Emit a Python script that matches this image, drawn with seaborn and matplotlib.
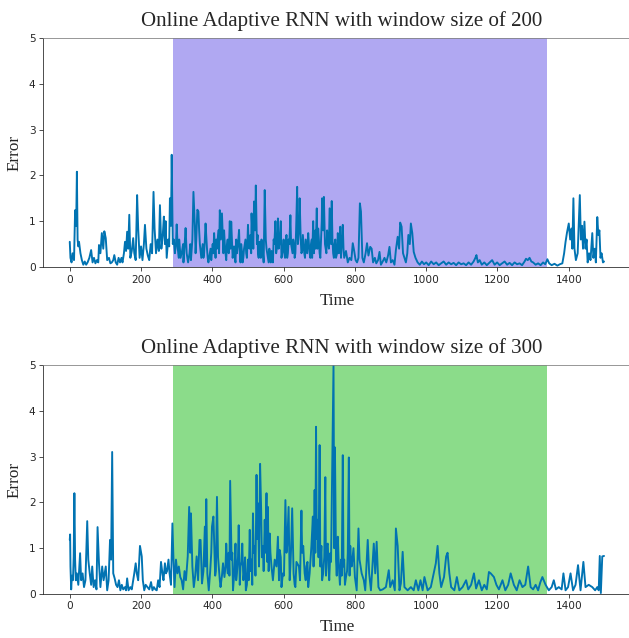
import matplotlib
matplotlib.use("Agg")
import matplotlib.pyplot as plt
import seaborn as sns
import pandas as pd

# --- data ---
t_200 = [0, 2, 5, 8, 12, 15, 18, 20, 22, 24, 26, 30, 34, 38, 42, 46, 50, 55, 60, 64, 68, 72, 76, 80, 82, 86, 90, 94, 97, 101,
         105, 110, 114, 118, 122, 125, 129, 133, 137, 141, 145, 148, 152, 155, 158, 161, 164, 167, 170, 174, 178, 181, 185, 189, 192, 196, 200,
         204, 208, 211, 215, 219, 223, 227, 231, 235, 238, 242, 246, 250, 253, 257, 261, 264, 267, 269, 272, 276, 279, 281, 284, 286, 289,
         292, 295, 298, 300, 303, 307, 311, 315, 319, 322, 325, 328, 332, 336, 340, 344, 347, 351, 355, 358, 361, 365, 369, 373, 377, 381,
         385, 389, 393, 397, 401, 405, 409, 413, 417, 421, 424, 427, 431, 435, 439, 443, 446, 449, 453, 457, 461, 465, 469, 472, 475, 479,
         483, 487, 491, 495, 500, 504, 507, 510, 514, 517, 520, 522, 525, 528, 532, 536, 540, 544, 547, 550, 554, 558, 562, 566, 570, 574,
         577, 581, 584, 588, 592, 596, 600, 604, 608, 612, 616, 619, 623, 627, 631, 635, 638, 642, 645, 648, 652, 656, 660, 664, 669, 673,
         677, 680, 683, 687, 690, 693, 697, 701, 705, 708, 711, 713, 716, 720, 724, 729, 733, 735, 739, 743, 747, 752, 755, 759, 763, 766,
         770, 775, 780, 785, 790, 794, 798, 802, 806, 810, 814, 817, 821, 825, 830, 834, 838, 843, 847, 851, 856, 860, 865, 869, 873, 878,
         883, 888, 893, 897, 901, 906, 911, 915, 920, 924, 927, 931, 935, 939, 943, 947, 950, 954, 957, 961, 965, 970, 976, 982, 988, 994,
         1000, 1007, 1014, 1021, 1028, 1035, 1042, 1049, 1056, 1063, 1070, 1077, 1084, 1091, 1098, 1105, 1112, 1119, 1126, 1133, 1138,
         1141, 1145, 1150, 1156, 1163, 1170, 1177, 1185, 1192, 1199, 1206, 1213, 1220, 1227, 1234, 1241, 1248, 1255, 1262, 1269, 1276,
         1280, 1285, 1290, 1295, 1300, 1307, 1314, 1321, 1328, 1334, 1340, 1345, 1352, 1360, 1368, 1375, 1382, 1387, 1391, 1395, 1400,
         1404, 1408, 1410, 1413, 1416, 1420, 1425, 1431, 1434, 1437, 1440, 1444, 1447, 1450, 1453, 1457, 1461, 1466, 1469, 1473, 1476,
         1480, 1483, 1486, 1489, 1492, 1496, 1499,
         # extra readings in the dense 300-770 stretch
         306, 318, 330, 338, 353, 363, 375, 379, 387, 395, 403, 411, 419, 433, 437, 441, 451, 455, 463, 467, 477, 481, 485, 489,
         493, 497, 502, 509, 512, 515, 519, 527, 530, 534, 538, 542, 552, 556, 560, 564, 568, 572, 579, 583, 586, 590, 594, 598,
         602, 606, 610, 614, 621, 625, 629, 633, 640, 644, 650, 654, 658, 662, 666, 671, 675, 679, 685, 689, 695, 699, 703, 707,
         715, 718, 722, 727, 731, 737, 741, 745, 750, 757, 761, 765, 768]
err_200 = [0.55, 0.2, 0.1, 0.3, 0.15, 1.24, 0.9, 2.08, 0.6, 0.45, 0.55, 0.3, 0.15, 0.05, 0.12, 0.05, 0.1, 0.2, 0.37, 0.1, 0.2, 0.08,
           0.15, 0.1, 0.48, 0.3, 0.74, 0.4, 0.78, 0.63, 0.15, 0.2, 0.08, 0.1, 0.15, 0.26, 0.1, 0.05, 0.2, 0.1, 0.2, 0.1, 0.3, 0.55, 0.35,
           0.77, 0.4, 1.14, 0.2, 0.35, 0.63, 0.3, 0.15, 1.57, 0.84, 0.2, 0.45, 0.15, 0.5, 0.92, 0.4, 0.25, 0.15, 0.5, 0.3, 1.64, 0.84, 0.3,
           0.6, 0.35, 1.35, 0.4, 0.7, 1.1, 0.5, 1.0, 0.2, 0.6, 0.45, 1.5, 0.9, 2.45, 0.5, 0.6, 0.3, 0.5, 0.93, 0.4, 0.6, 0.2, 0.35, 0.1,
           0.45, 0.85, 0.3, 0.1, 0.3, 0.15, 0.6, 1.64, 0.9, 0.6, 1.25, 1.21, 0.5, 0.2, 0.5, 0.3, 0.95, 0.4, 0.1, 0.3, 0.15, 0.5, 0.74, 0.2,
           0.4, 0.8, 1.24, 0.6, 1.17, 0.3, 0.5, 0.15, 0.6, 0.3, 1.0, 0.99, 0.2, 0.45, 0.1, 0.3, 0.5, 0.81, 0.1, 0.35, 0.2, 0.5, 0.3, 0.92,
           0.4, 0.7, 1.17, 0.6, 1.43, 0.8, 1.78, 0.5, 0.3, 0.55, 0.2, 0.4, 0.1, 1.68, 0.6, 0.3, 0.1, 0.2, 0.35, 0.1, 0.5, 1.0, 0.4, 1.06,
           0.5, 1.0, 0.3, 0.6, 0.2, 0.7, 0.3, 0.5, 1.13, 0.4, 0.6, 0.2, 0.8, 1.75, 0.7, 1.5, 0.6, 0.35, 0.5, 0.2, 0.45, 0.74, 0.3, 0.5,
           0.2, 1.0, 0.6, 0.4, 1.28, 0.84, 0.3, 0.6, 1.5, 0.8, 1.53, 0.5, 0.3, 0.6, 1.28, 0.5, 1.44, 0.3, 0.5, 0.2, 0.74, 0.3, 0.88, 0.5,
           0.92, 0.2, 0.35, 0.1, 0.2, 0.15, 0.52, 0.35, 0.15, 0.1, 0.2, 1.39, 1.21, 0.2, 0.1, 0.3, 0.52, 0.25, 0.44, 0.4, 0.1, 0.2, 0.08,
           0.15, 0.33, 0.05, 0.12, 0.2, 0.1, 0.25, 0.44, 0.1, 0.15, 0.05, 0.37, 0.66, 0.4, 0.97, 0.88, 0.3, 0.2, 0.1, 0.3, 0.7, 0.5, 0.95,
           0.74, 0.33, 0.2, 0.1, 0.05, 0.12, 0.06,
           0.1, 0.04, 0.12, 0.06, 0.1, 0.04, 0.08, 0.12, 0.05, 0.1, 0.06, 0.09, 0.04, 0.1, 0.06, 0.08, 0.04, 0.1, 0.05, 0.12, 0.2,
           0.26, 0.1, 0.15, 0.05, 0.1, 0.04, 0.09, 0.15, 0.05, 0.1, 0.04, 0.08, 0.12, 0.05, 0.09, 0.04, 0.1, 0.06, 0.08, 0.04, 0.12,
           0.18, 0.15, 0.2, 0.12, 0.1, 0.05, 0.08, 0.04, 0.1, 0.06, 0.17, 0.08, 0.04, 0.07, 0.03, 0.06, 0.08, 0.3, 0.55, 0.75, 0.95,
           0.6, 0.84, 0.4, 1.5, 0.4, 0.15, 0.3, 1.57, 0.6, 0.9, 0.4, 0.99, 0.4, 0.6, 0.1, 0.3, 0.15, 0.74, 0.2, 0.4, 0.1,
           1.09, 0.7, 0.8, 0.2, 0.3, 0.1, 0.12,
           0.2, 0.5, 0.2, 0.5, 0.3, 0.8, 0.2, 0.6, 0.2, 0.4, 0.3, 0.6, 0.3, 0.8, 0.3, 0.5, 0.4, 0.6, 0.2, 0.6, 0.3, 0.5, 0.1, 0.4,
           0.6, 0.2, 0.5, 0.3, 0.8, 0.4, 1.0, 0.7, 0.2, 0.4, 0.6, 0.3, 0.4, 0.2, 0.4, 0.1, 0.3, 0.6, 0.3, 0.7, 0.4, 0.7, 0.2, 0.4,
           0.3, 0.5, 0.2, 0.6, 0.5, 0.3, 0.5, 0.3, 0.5, 0.9, 0.3, 0.7, 0.3, 0.6, 0.3, 0.5, 0.2, 0.6, 0.3, 0.8, 0.4, 0.6, 0.2, 1.0,
           0.9, 0.4, 0.8, 0.4, 0.9, 0.6, 0.2, 0.6, 0.3, 0.4, 0.2, 0.7, 0.4]

t_300 = [0, 1, 2, 4, 6, 9, 11, 13, 15, 17, 20, 24, 29, 32, 36, 40, 44, 49, 52, 56, 60, 63, 67, 71, 75, 78, 82, 86, 91, 95, 98, 101,
         105, 109, 113, 116, 119, 122, 126, 130, 134, 138, 142, 146, 150, 155, 158, 161, 165, 170, 174, 178, 181, 185, 188, 192, 197,
         202, 205, 209, 213, 218, 223, 228, 232, 236, 240, 244, 248, 252, 256, 260, 263, 267, 270, 273, 277, 280, 284, 288, 291, 294,
         298, 302, 306, 310, 314, 318, 322, 326, 331, 335, 338, 340, 344, 348, 352, 356, 360, 364, 367, 371, 375, 379, 383, 386, 390,
         394, 399, 403, 406, 410, 413, 418, 423, 427, 430, 434, 439, 443, 446, 450, 454, 458, 462, 465, 469, 474, 479, 484, 489, 494,
         500, 505, 510, 514, 519, 524, 528, 534, 537, 542, 547, 552, 556, 561, 566, 570, 575, 580, 584, 589, 594, 598, 605, 610, 614,
         619, 624, 628, 633, 638, 643, 650, 655, 659, 664, 669, 673, 678, 682, 687, 691, 695, 701, 706, 711, 717, 721, 726, 731, 735,
         737, 740, 744, 747, 752, 756, 761, 766, 770, 775, 780, 783, 787, 791, 796, 800, 805, 810, 813, 819, 825, 829, 836, 840, 845,
         853, 857, 861, 866, 871, 878, 887, 895, 899, 906, 912, 915, 920, 925, 929, 934, 939, 948, 957, 965, 971, 978, 984, 990, 995,
         1004, 1013, 1021, 1027, 1032, 1037, 1042, 1050, 1056, 1060, 1065, 1070, 1079, 1086, 1093, 1102, 1112, 1118, 1126, 1134, 1140,
         1148, 1156, 1163, 1170, 1176, 1181, 1190, 1197, 1204, 1214, 1222, 1230, 1237, 1246, 1254, 1262, 1270, 1278, 1286, 1293, 1300,
         1307, 1314, 1320, 1326, 1335, 1344, 1352, 1358, 1364, 1372, 1380, 1385, 1391, 1398, 1405, 1412, 1419, 1426, 1433, 1441, 1447,
         1456, 1466, 1474, 1480, 1484, 1487, 1490, 1494, 1499,
         # extra readings in the dense 380-790 stretch
         381, 392, 397, 408, 416, 421, 437, 448, 456, 467, 472, 477, 482, 487, 492, 497, 502, 507, 512, 516, 521, 526, 531, 539,
         544, 549, 554, 558, 563, 587, 592, 601, 608, 617, 621, 631, 636, 646, 652, 662, 667, 684, 689, 693, 698, 703, 708, 714,
         719, 724, 728, 733, 742, 749, 754, 758, 763, 768, 772, 778, 785, 789]
err_300 = [1.18, 1.3, 0.6, 0.1, 0.4, 0.3, 0.8, 2.2, 0.75, 0.3, 0.45, 0.2, 0.89, 0.3, 0.45, 0.15, 0.3, 1.59, 0.75, 0.45, 0.2, 0.6,
           0.15, 0.3, 0.1, 1.46, 0.67, 0.15, 0.6, 0.3, 0.45, 0.6, 0.08, 0.3, 1.18, 0.75, 3.1, 0.45, 0.34, 0.2, 0.15, 0.3, 0.08, 0.2,
           0.1, 0.15, 0.08, 0.34, 0.08, 0.15, 0.1, 0.3, 0.45, 0.67, 0.45, 0.3, 1.05, 0.82, 0.3, 0.08, 0.2, 0.15, 0.1, 0.26, 0.08, 0.15,
           0.1, 0.08, 0.3, 0.15, 0.7, 0.45, 0.3, 0.67, 0.45, 0.5, 0.75, 0.45, 0.2, 1.54, 0.75, 0.15, 0.75, 0.45, 0.6, 0.37, 0.3, 0.1,
           0.5, 0.3, 0.82, 1.9, 0.9, 1.76, 0.6, 0.15, 0.4, 0.82, 0.3, 1.18, 1.18, 0.23, 0.5, 1.47, 2.07, 0.45, 0.08, 0.5, 1.47, 1.69,
           0.89, 0.5, 2.12, 0.6, 0.15, 0.4, 0.67, 0.37, 1.1, 0.45, 0.9, 2.47, 0.75, 0.08, 0.5, 1.1, 0.45, 1.5, 0.6, 1.1, 0.45, 0.08,
           0.75, 1.4, 0.75, 1.76, 1.05, 2.6, 1.98, 2.84, 1.83, 1.05, 1.62, 2.2, 1.9, 1.32, 0.6, 0.3, 0.75, 0.6, 1.25, 0.96, 0.15, 0.45,
           2.05, 1.05, 1.9, 0.6, 1.87, 0.45, 0.15, 0.67, 0.6, 1.82, 1.05, 0.45, 0.6, 0.15, 0.45, 1.05, 1.69, 2.27, 3.65, 1.62, 3.25,
           1.05, 0.45, 2.55, 1.05, 0.6, 0.89, 1.9, 2.93, 5.0, 3.2, 0.75, 1.25, 0.45, 0.75, 3.03, 0.75, 0.37, 0.89, 2.98, 1.05, 0.6, 1.0,
           0.37, 0.08, 1.43, 0.75, 0.45, 0.3, 0.08, 1.18, 0.45, 0.08, 1.1, 0.45, 1.14, 0.15, 0.08, 0.1, 0.15, 0.52, 0.15, 0.3, 0.08,
           1.43, 1.05, 0.08, 0.23, 0.92, 0.15, 0.08, 0.15, 0.08, 0.3, 0.08, 0.3, 0.08, 0.37, 0.08, 0.15, 0.45, 0.67, 1.05, 0.45, 0.15,
           0.37, 0.82, 0.9, 0.45, 0.15, 0.08, 0.37, 0.08, 0.15, 0.3, 0.1, 0.2, 0.45, 0.12, 0.3, 0.08, 0.2, 0.1, 0.48, 0.45, 0.37, 0.2,
           0.1, 0.3, 0.08, 0.2, 0.45, 0.2, 0.08, 0.3, 0.15, 0.2, 0.6, 0.15, 0.1, 0.2, 0.08, 0.25, 0.37, 0.2, 0.08, 0.15, 0.3, 0.1, 0.15,
           0.1, 0.45, 0.08, 0.15, 0.45, 0.08, 0.2, 0.63, 0.08, 0.7, 0.15, 0.2, 0.15, 0.08, 0.15, 0.08, 0.83, 0.02, 0.82, 0.83,
           0.6, 0.3, 0.9, 0.4, 0.8, 0.3, 0.6, 0.4, 0.9, 0.3, 0.8, 0.2, 0.7, 0.3, 0.8, 0.2, 0.3, 0.5, 0.2, 0.9, 0.4, 1.2, 0.6, 0.8,
           0.5, 0.9, 0.7, 0.5, 0.9, 0.3, 0.8, 0.4, 0.9, 0.3, 1.0, 0.2, 0.7, 0.3, 0.9, 0.3, 0.7, 0.6, 0.9, 1.2, 0.8, 0.6, 0.3, 0.8,
           0.4, 1.1, 0.3, 0.7, 1.0, 0.4, 0.8, 0.2, 0.4, 0.6, 0.2, 0.5, 0.4, 0.7]

windows = [200, 300]
span_start, span_end = 290, 1340
span_colors = ["#b0a8f2", "#8bdc8a"]
line_color = "#0173b2"

df_200 = pd.DataFrame({"Time": t_200, "Error": err_200})
df_300 = pd.DataFrame({"Time": t_300, "Error": err_300})

sns.set_style("ticks")
fig = plt.figure(figsize=(629 / 72, 638 / 72), dpi=72)
axes = [fig.add_axes([0.0684, 0.5815, 0.935, 0.359]),
        fig.add_axes([0.0684, 0.069, 0.935, 0.359])]

for ax, df, w, sc in zip(axes, [df_200, df_300], windows, span_colors):
    ax.axvspan(span_start, span_end, color=sc, lw=0, zorder=0)
    # lineplot sorts by Time, so the extra readings fall into place
    sns.lineplot(data=df, x="Time", y="Error", ax=ax, color=line_color, linewidth=1.9, zorder=2)
    ax.set_xlim(-75, 1575)
    ax.set_ylim(0, 5)
    ax.set_xticks(range(0, 1500, 200))
    ax.set_yticks(range(0, 6))
    ax.tick_params(labelsize=10.5, colors="#262626", length=4)
    ax.set_title(f"Online Adaptive RNN with window size of {w}", family="Liberation Serif",
                 fontsize=21, pad=12, x=0.508)
    ax.set_xlabel("Time", family="Liberation Serif", fontsize=17, labelpad=8)
    ax.set_ylabel("Error", family="Liberation Serif", fontsize=17, labelpad=6)
    ax.spines["top"].set_color("#808080")
    ax.spines["right"].set_color("#808080")

fig.savefig("out.png", dpi=72)
